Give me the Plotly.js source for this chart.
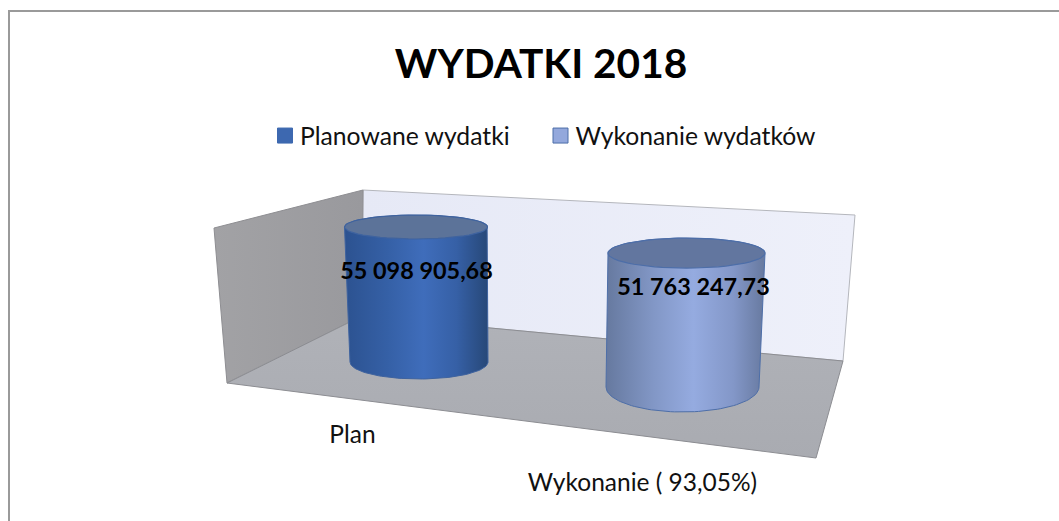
<!DOCTYPE html>
<html><head><meta charset="utf-8">
<script src="https://cdn.plot.ly/plotly-3.0.1.min.js"></script>
<style>html,body{margin:0;padding:0;background:#fff}</style></head>
<body><div id="chart" style="width:1059px;height:521px"></div>
<script>
// ---- data ----
const chartTitle = "WYDATKI 2018";
const seriesNames = ["Planowane wydatki", "Wykonanie wydatków"];
const categories = ["Plan", "Wykonanie ( 93,05%)"];
const values = [55098905.68, 51763247.73];
const valueLabels = ["55 098 905,68", "51 763 247,73"];

// ---- scene scale: y axis is in PLN, x axis in scene units ----
const W = 1059, H = 521, PX_PER_PLN = 2.45e-6;
const yFromTop = p => (H - p) / PX_PER_PLN;
const pxFont = "Lato, 'Open Sans', sans-serif";

// ---- oblique 3D look ----
const depth = [1, 1.056];              // perspective enlargement per category
const topGeom = [{cx:416, rx:71.5, ry:12}, {cx:686.5, rx:78.5, ry:15}];
const botGeom = [{cx:419, cy:362, rx:69, ry:17}, {cx:682.5, cy:387, rx:76.5, ry:25}];
const bodyColors = [
  [[0,"#2c5290"],[0.3,"#3560a6"],[0.55,"#3f6dbb"],[0.78,"#3660a6"],[1,"#274878"]],
  [[0,"#66799f"],[0.3,"#8297c6"],[0.55,"#95abe0"],[0.8,"#8397c8"],[1,"#67799f"]]
];
const capColors = ["#5c7399", "#62769f"];
const edgeColors = ["#3f639f", "#4d6ea8"];
const labelPos = [{x:416.5, y:273.5}, {x:693.5, y:289.5}];
const catPos = [{x:352.5, y:437}, {x:642.5, y:485}];

function arc(cx, cy, rx, ry, a0, a1) {
  const xs = [], ys = [], n = 60;
  for (let i = 0; i <= n; i++) {
    const a = (a0 + (a1 - a0) * i / n) * Math.PI / 180;
    xs.push(cx + rx * Math.cos(a));
    ys.push(cy + ry * Math.sin(a) / PX_PER_PLN);
  }
  return [xs, ys];
}
function poly(pts, colors, line, orient) {
  const n = colors.length;
  return {
    type:"scatter", mode:"lines", x:pts.map(p=>p[0]).concat(pts[0][0]),
    y:pts.map(p=>yFromTop(p[1])).concat(yFromTop(pts[0][1])),
    fill:"toself", line:{color:line, width:1},
    fillgradient:{type:orient, colorscale:colors.map((c,i)=>[i/(n-1),c])},
    showlegend:false, hoverinfo:"skip"
  };
}
const traces = [
  poly([[363,190],[855,215],[843,361],[362,316]], ["#e6e9f6","#eef0fa"], "#b4b6bc", "horizontal"),
  poly([[214,228],[363,190],[362,316],[227,383]], ["#a2a2a5","#99999d"], "#8e8e92", "horizontal"),
  poly([[227,383],[362,316],[843,361],[816,458]], ["#a9abb1","#b0b2b8"], "#8c8d92", "vertical")
];

values.forEach((v, i) => {
  const b = botGeom[i], t = topGeom[i];
  const base = yFromTop(b.cy);
  const top = base + v * depth[i];
  const [bx, by] = arc(b.cx, base, b.rx, b.ry, 180, 360);
  const [tx, ty] = arc(t.cx, top, t.rx, t.ry, 0, 180);
  traces.push({
    type:"scatter", mode:"lines", x:bx.concat(tx, bx[0]), y:by.concat(ty, by[0]),
    fill:"toself", line:{color:edgeColors[i], width:1},
    fillgradient:{type:"horizontal", colorscale:bodyColors[i]},
    showlegend:false, hoverinfo:"skip"
  });
  const [cx, cy] = arc(t.cx, top, t.rx, t.ry, 0, 360);
  traces.push({
    type:"scatter", mode:"lines", x:cx, y:cy, fill:"toself",
    fillcolor:capColors[i], line:{color:edgeColors[i], width:1.2},
    showlegend:false, hovertemplate:seriesNames[i]+": "+valueLabels[i]+"<extra></extra>"
  });
});

// legend entries
const legendFill = ["#3d68b0", "#93a8dc"], legendEdge = ["#3d68b0", "#4d6ea8"];
const legendIds = ["legend", "legend2"];
seriesNames.forEach((n, i) => traces.push({
  type:"scatter", mode:"markers", name:n, x:[-100], y:[0], legend:legendIds[i],
  marker:{symbol:"square", size:15, color:legendFill[i], line:{color:legendEdge[i], width:1}},
  showlegend:true, hoverinfo:"skip"
}));

// value labels
traces.push({
  type:"scatter", mode:"text", x:labelPos.map(p=>p.x), y:labelPos.map(p=>yFromTop(p.y)),
  text:valueLabels, textposition:"middle center",
  textfont:{family:pxFont, size:23.4, weight:700, color:"#000"},
  showlegend:false, hoverinfo:"skip"
});
// category labels
traces.push({
  type:"scatter", mode:"text", x:catPos.map(p=>p.x), y:catPos.map(p=>yFromTop(p.y)),
  text:categories, textposition:"middle center",
  textfont:{family:pxFont, size:24.5, color:"#111"},
  showlegend:false, hoverinfo:"skip"
});

const legendBase = xPx => ({
  orientation:"h", x:xPx/W, xanchor:"left", y:1-136/H, yanchor:"middle",
  font:{family:pxFont, size:24.7, color:"#111"}, bgcolor:"rgba(0,0,0,0)",
  itemclick:false, itemdoubleclick:false
});
const layout = {
  width:W, height:H, margin:{l:0,r:0,t:0,b:0,pad:0},
  paper_bgcolor:"#fff", plot_bgcolor:"#fff",
  title:{text:chartTitle, x:541/W, xanchor:"center", y:1-64/H, yanchor:"middle",
         font:{family:pxFont, size:40.6, weight:700, color:"#000"}},
  xaxis:{range:[0,W], visible:false, fixedrange:true},
  yaxis:{range:[0,H/PX_PER_PLN], visible:false, fixedrange:true},
  legend:legendBase(260),
  legend2:legendBase(535.5),
  shapes:[{type:"path", xref:"paper", yref:"paper",
           path:`M${9/W},0 L${9/W},${1-11/H} L1,${1-11/H}`,
           line:{color:"#9a9a9a", width:2}}],
  showlegend:true
};
Plotly.newPlot("chart", traces, layout, {displayModeBar:false}).then(() => {
  // swatches sit closer to their text in the reference than the minimum legend item width allows
  document.querySelectorAll(".legendpoints").forEach(g => g.setAttribute("transform", "translate(5,0)"));
});
</script></body></html>
